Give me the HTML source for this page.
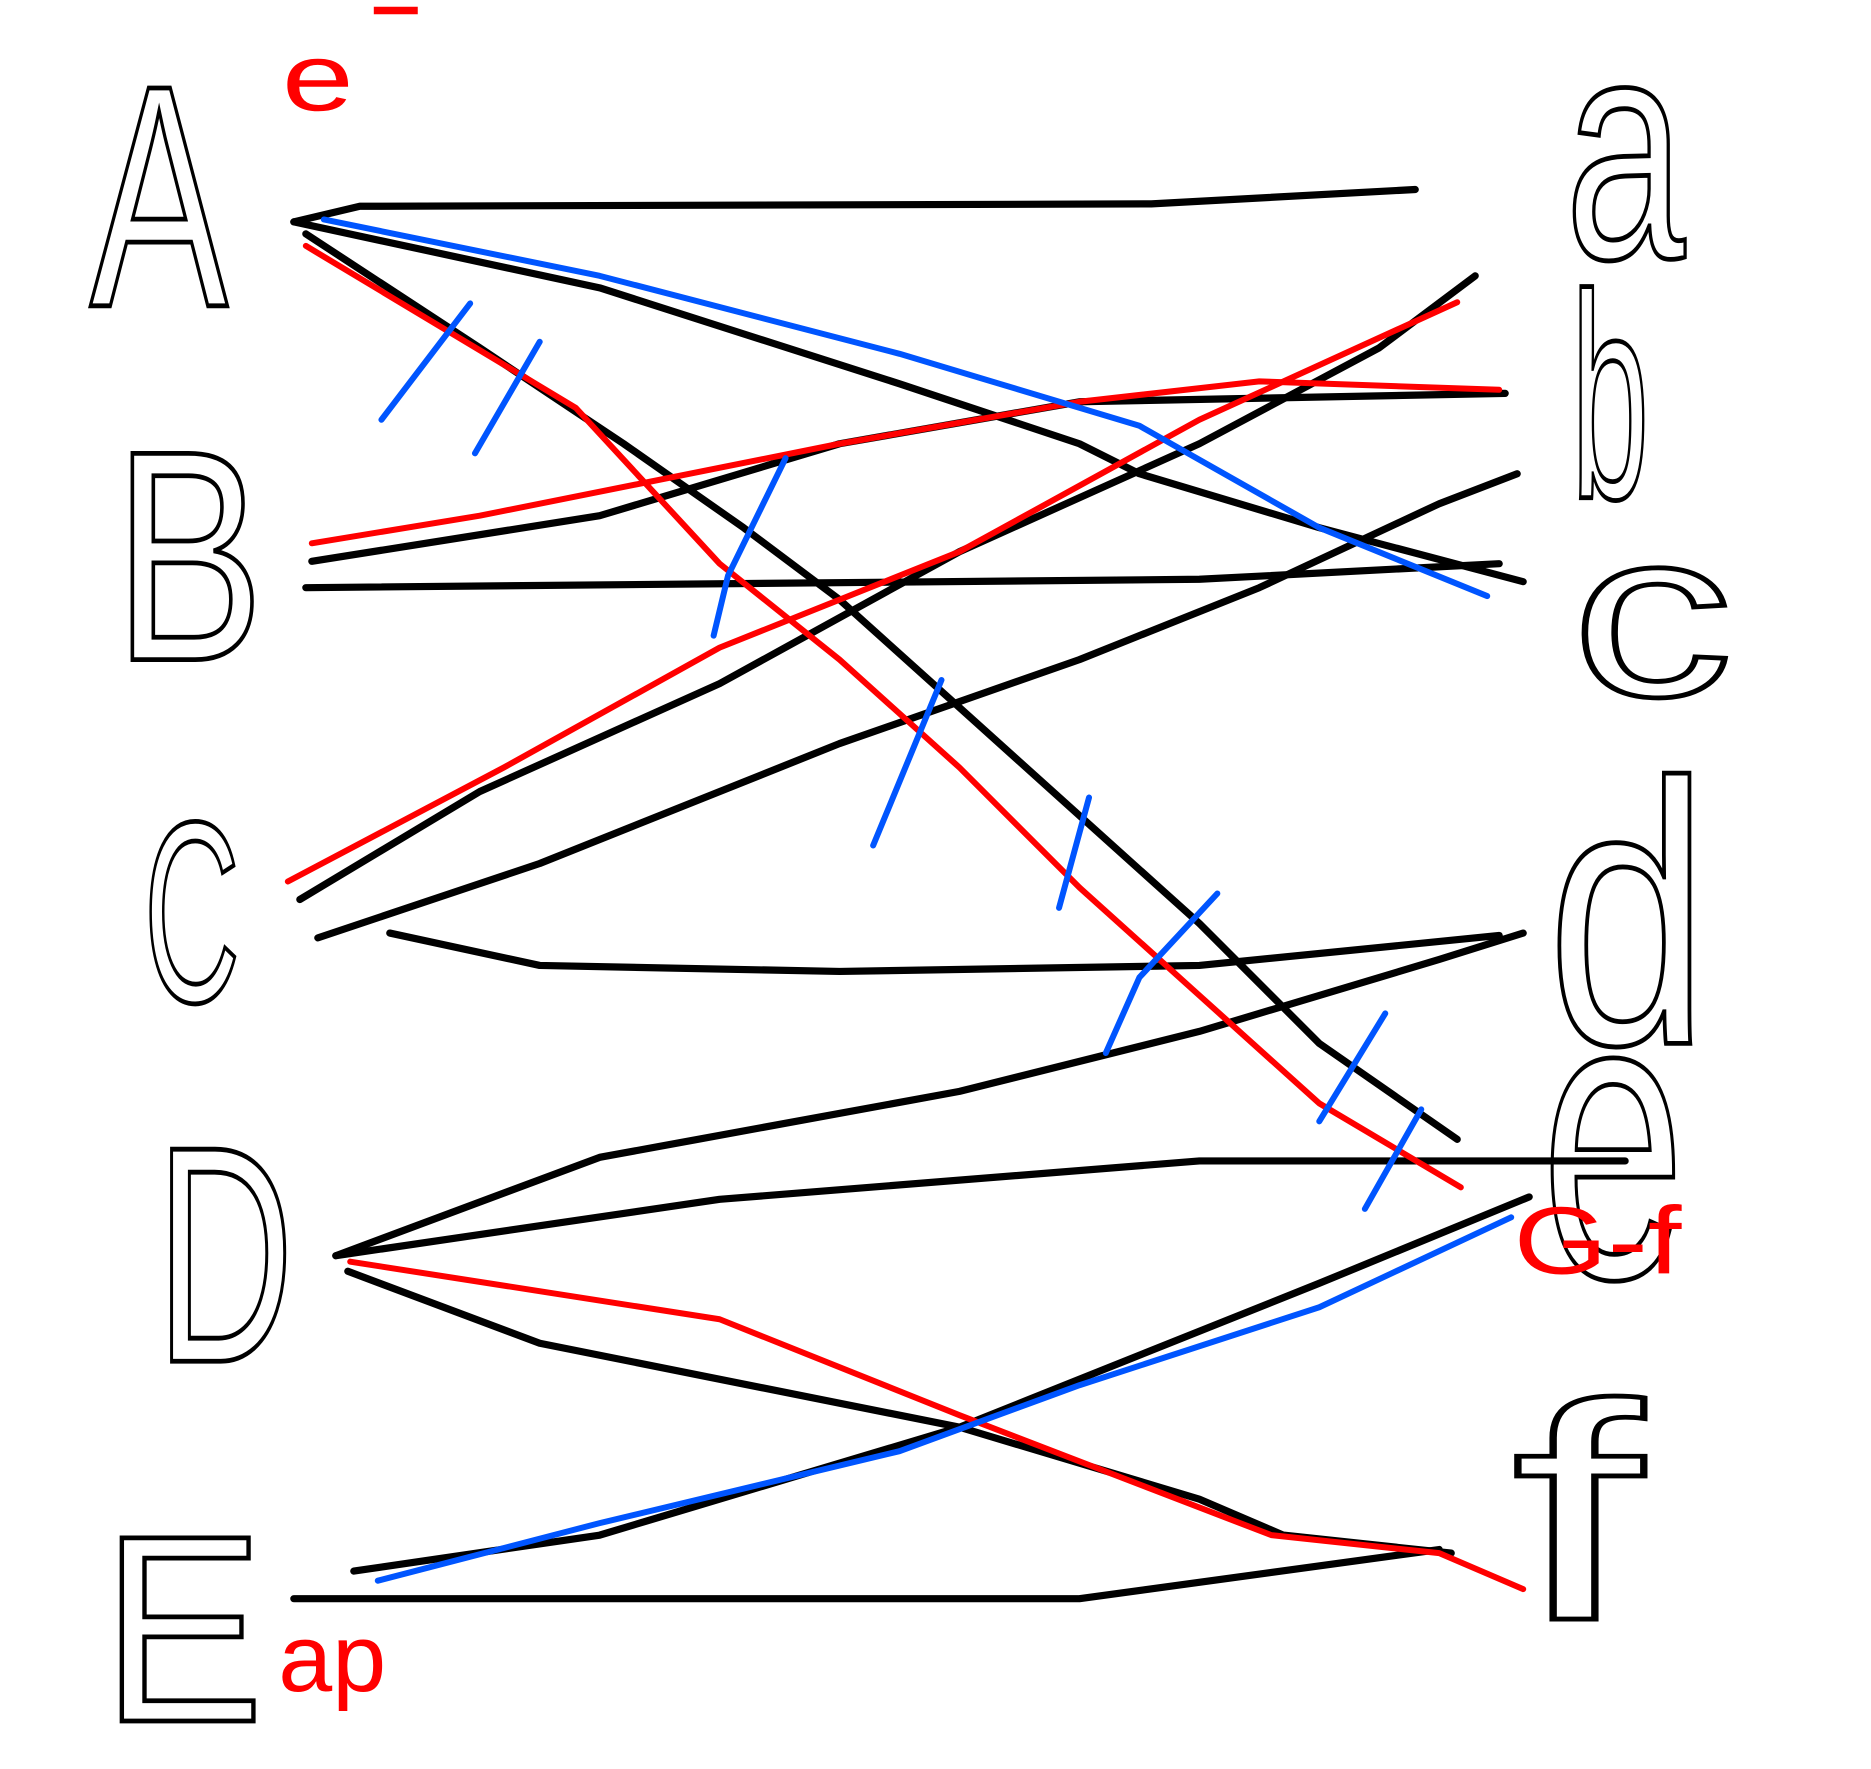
<!DOCTYPE html>
<html><head><meta charset="utf-8"><style>
html,body{margin:0;padding:0;background:#fff;}
svg{display:block;}
text{font-family:"Liberation Sans",sans-serif;}
</style></head><body>
<svg width="1871" height="1769" viewBox="0 0 1560 1475" preserveAspectRatio="none" xmlns="http://www.w3.org/2000/svg">
<rect width="1560" height="1475" fill="#fff"/>
<g id="labels" fill="none" stroke="#000" stroke-width="4" font-size="260"></g>
<g id="edges" fill="none" stroke-linecap="round" stroke-linejoin="round"></g>
<g id="notes" fill="#f00"></g>
</svg>
<script>
const NS='http://www.w3.org/2000/svg';
const leftNodes=['A','B','C','D','E'];
const rightNodes=['a','b','c','d','e','f'];
// [text, x, y(baseline), width, height]
const labelBoxes=[['A',75,255,115,190],['B',95,550,125,180],['C',120,835,80,155],['D',130,1135,115,185],['E',85,1435,135,160],
['a',1305,215,100,140],['b',1310,415,65,180],['c',1310,580,135,105],['d',1290,870,135,230],['e',1285,1065,120,180],['f',1260,1350,110,190]];
const blackEdges=[
[[245,185],[300,172],[960,170],[1180,158]],
[[245,185],[500,240],[750,320],[900,370],[950,395],[1100,440],[1270,485]],
[[255,195],[400,290],[520,370],[620,440],[700,500],[800,590],[900,680],[1000,770],[1100,870],[1215,950]],
[[260,468],[500,430],[700,370],[900,335],[1255,328]],
[[255,490],[1000,483],[1250,470]],
[[250,750],[400,660],[600,570],[800,460],[1000,370],[1150,290],[1230,230]],
[[265,782],[450,720],[700,620],[900,550],[1050,490],[1200,420],[1265,395]],
[[325,778],[450,805],[700,810],[1000,805],[1250,780]],
[[280,1047],[500,965],[800,910],[1000,860],[1200,800],[1270,778]],
[[280,1047],[600,1000],[1000,968],[1355,968]],
[[290,1060],[450,1120],[800,1190],[1000,1250],[1070,1280],[1210,1295]],
[[295,1310],[500,1280],[800,1190],[1100,1070],[1275,998]],
[[245,1333],[900,1333],[1200,1292]]];
const redEdges=[
[[255,205],[480,340],[600,470],[700,550],[800,640],[900,740],[1000,830],[1100,920],[1218,990]],
[[260,453],[400,430],[700,370],[900,335],[1050,318],[1250,325]],
[[240,735],[420,640],[600,540],[800,460],[1000,350],[1215,252]],
[[292,1052],[600,1100],[800,1180],[1060,1280],[1200,1295],[1270,1325]]];
const blueEdges=[
[[270,183],[500,230],[750,295],[950,355],[1100,440],[1240,497]],
[[315,1318],[500,1270],[750,1210],[900,1155],[1100,1090],[1260,1015]]];
const blueTicks=[
[[318,350],[392,253]],[[396,378],[450,285]],[[595,530],[607,480],[655,382]],
[[728,705],[785,567]],[[883,757],[908,665]],[[922,878],[950,815],[1015,745]],
[[1100,935],[1155,845]],[[1138,1008],[1185,925]]];

const lab=document.getElementById('labels');
labelBoxes.forEach(b=>{
  const t=document.createElementNS(NS,'text');
  
  
  t.setAttribute('x',b[1]);t.setAttribute('y',b[2]);
  t.setAttribute('textLength',b[3]);t.setAttribute('lengthAdjust','spacingAndGlyphs');
  const isCap=b[0]===b[0].toUpperCase();
  t.setAttribute('font-size',Math.round(b[4]/(isCap?0.72:(b[0]==='b'||b[0]==='d'||b[0]==='f'?0.74:0.53))));
  t.textContent=b[0];
  lab.appendChild(t);
});
const eg=document.getElementById('edges');
function draw(list,color,w,name){
  list.forEach((pts,i)=>{
    const p=document.createElementNS(NS,'polyline');
    
    
    p.setAttribute('points',pts.map(q=>q.join(',')).join(' '));
    p.setAttribute('stroke',color);p.setAttribute('stroke-width',w);
    eg.appendChild(p);
  });
}
draw(blackEdges,'#000',6,'black-edge');
draw(redEdges,'#f00',5,'red-edge');
draw(blueEdges,'#0055ff',5,'blue-edge');
draw(blueTicks,'#0055ff',5,'blue-tick');
const notes=[['e',235,92,60,'note-e-minus'],['-',305,30,50,'note-minus'],['ap',232,1410,90,'note-ap'],['G-f',1262,1062,140,'note-g-f']];
const ng=document.getElementById('notes');
notes.forEach(n=>{
  const t=document.createElementNS(NS,'text');
  
  
  t.setAttribute('x',n[1]);t.setAttribute('y',n[2]);
  t.setAttribute('font-size',80);
  t.setAttribute('textLength',n[3]);t.setAttribute('lengthAdjust','spacingAndGlyphs');
  t.textContent=n[0];
  ng.appendChild(t);
});
</script>
</body></html>
